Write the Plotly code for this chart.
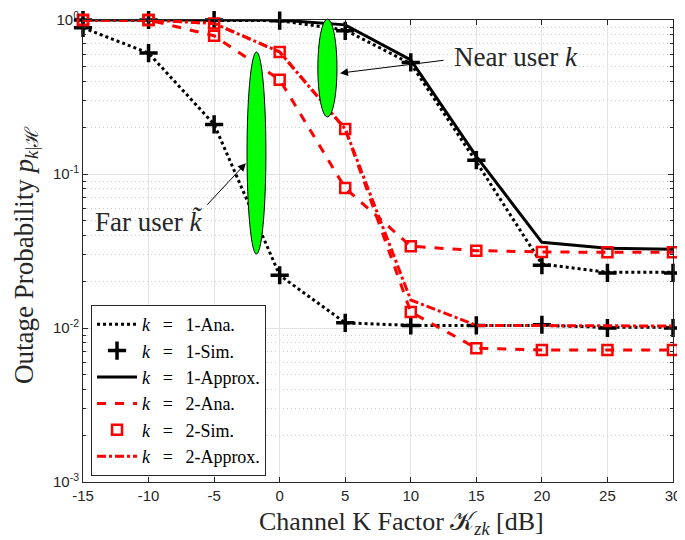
import plotly.graph_objects as go

# ---------------- data ----------------
k_factor_db = [-15, -10, -5, 0, 5, 10, 15, 20, 25, 30]

k1_far_ana = [0.89, 0.61, 0.21, 0.022, 0.0108, 0.0104, 0.0104, 0.0104, 0.0101, 0.0101]
k1_far_sim = [0.89, 0.61, 0.21, 0.022, 0.0108, 0.0104, 0.0104, 0.0105, 0.0100, 0.0100]
k1_near_ana = [1.0, 1.0, 1.0, 0.99, 0.86, 0.52, 0.12, 0.026, 0.023, 0.023]
k1_near_sim = [1.0, 1.0, 1.0, 0.99, 0.85, 0.53, 0.123, 0.0256, 0.0228, 0.0228]
k1_near_approx = [1.0, 1.0, 1.0, 1.0, 0.93, 0.55, 0.13, 0.036, 0.033, 0.0325]

k2_far_ana = [1.0, 1.0, 0.79, 0.41, 0.081, 0.034, 0.0318, 0.0312, 0.031, 0.031]
k2_far_sim = [1.0, 1.0, 0.79, 0.41, 0.081, 0.034, 0.0318, 0.0312, 0.031, 0.031]
k2_near_ana = [1.0, 1.0, 0.95, 0.62, 0.196, 0.0127, 0.0074, 0.0072, 0.0072, 0.0072]
k2_near_sim = [1.0, 1.0, 0.95, 0.62, 0.196, 0.0127, 0.0074, 0.0072, 0.0072, 0.0072]
k2_near_approx = [1.0, 1.0, 0.95, 0.62, 0.196, 0.0152, 0.0104, 0.0104, 0.0103, 0.0103]

x_ticks = [-15, -10, -5, 0, 5, 10, 15, 20, 25, 30]
x_ticktext = ["-15", "-10", "-5", "0", "5", "10", "15", "20", "25", "30"]
y_tickvals = [0.001, 0.01, 0.1, 1]
y_ticktext = ["10<sup>-3</sup>", "10<sup>-2</sup>", "10<sup>-1</sup>", "10<sup>0</sup>"]
y_minor = [m * d for d in (0.001, 0.01, 0.1) for m in range(2, 10)]

SP = "\u2002\u2009"
legend_names = [
    f"<i>k</i>{SP}={SP}1-Ana.",
    f"<i>k</i>{SP}={SP}1-Sim.",
    f"<i>k</i>{SP}={SP}1-Approx.",
    f"<i>k</i>{SP}={SP}2-Ana.",
    f"<i>k</i>{SP}={SP}2-Sim.",
    f"<i>k</i>{SP}={SP}2-Approx.",
]
x_title = "Channel K Factor 𝒦<sub><i>zk</i></sub> [dB]"
y_title = "Outage Probability <i>p</i><sub><i>k</i>|ℋ</sub>"

SERIF = "Liberation Serif, Times New Roman, serif"
SANS = "Liberation Sans, Arial, sans-serif"
RED = "#ff0000"

fig = go.Figure()


def add_line(y, name, color, dash, group, show):
    fig.add_trace(go.Scatter(
        x=k_factor_db, y=y, mode="lines", name=name, legendgroup=group,
        showlegend=show, line=dict(color=color, width=3, dash=dash),
        cliponaxis=False))


def add_markers(y, name, color, symbol, size, lw, group, show):
    fig.add_trace(go.Scatter(
        x=k_factor_db, y=y, mode="markers", name=name, legendgroup=group,
        showlegend=show,
        marker=dict(symbol=symbol, size=size, color=color,
                    line=dict(color=color, width=lw)),
        cliponaxis=False))


add_line(k1_near_ana, legend_names[0], "black", "dot", "g1", True)
add_line(k1_far_ana, legend_names[0], "black", "dot", "g1", False)
add_markers(k1_near_sim, legend_names[1], "black", "cross-thin", 13, 3.5, "g2", True)
add_markers(k1_far_sim, legend_names[1], "black", "cross-thin", 13, 3.5, "g2", False)
add_line(k1_near_approx, legend_names[2], "black", "solid", "g3", True)
add_line(k2_far_ana, legend_names[3], RED, "dash", "g4", True)
add_line(k2_near_ana, legend_names[3], RED, "dash", "g4", False)
add_markers(k2_far_sim, legend_names[4], RED, "square-open", 10, 2.5, "g5", True)
add_markers(k2_near_sim, legend_names[4], RED, "square-open", 10, 2.5, "g5", False)
add_line(k2_near_approx, legend_names[5], RED, "dashdot", "g6", True)

# ---------------- layout ----------------
# (the page body adds an 8px offset, compensated in the margins)
fig.update_layout(
    width=685, height=540,
    margin=dict(l=75, r=20, t=12, b=66),
    paper_bgcolor="white", plot_bgcolor="white",
    showlegend=True,
    legend=dict(
        x=0.0136, y=0.013, xanchor="left", yanchor="bottom",
        bgcolor="white", bordercolor="#262626", borderwidth=1,
        font=dict(family=SERIF, size=18, color="black"),
        itemwidth=40, tracegroupgap=0,
    ),
    xaxis=dict(
        range=[-15, 30], tickvals=x_ticks, ticktext=x_ticktext,
        ticks="inside", ticklen=5, automargin=False,
        tickcolor="#262626", showline=True, linecolor="#262626", linewidth=1,
        mirror="ticks", showgrid=True, gridcolor="#e3e3e3", gridwidth=1,
        zeroline=False,
        tickfont=dict(family=SANS, size=15, color="#262626"),
    ),
    yaxis=dict(
        type="log", range=[-3, 0], tickvals=y_tickvals, ticktext=y_ticktext,
        ticks="inside", ticklen=5, tickcolor="#262626", automargin=False,
        showline=True, linecolor="#262626", linewidth=1, mirror="ticks",
        showgrid=True, gridcolor="#e3e3e3", gridwidth=1, zeroline=False,
        tickfont=dict(family=SANS, size=15, color="#262626"),
        minor=dict(tickvals=y_minor, ticks="inside", ticklen=3,
                   tickcolor="#262626", showgrid=True, gridcolor="#cccccc",
                   griddash="1px,3px", gridwidth=1),
    ),
)

# axis titles (placed as in the reference)
fig.add_annotation(x=0.539, y=-0.088, xref="paper", yref="paper",
                   text=x_title, showarrow=False, xanchor="center", yanchor="middle",
                   font=dict(family=SERIF, size=26, color="#262626"))
fig.add_annotation(x=-0.097, y=0.491, xref="paper", yref="paper",
                   text=y_title, showarrow=False, textangle=-90,
                   xanchor="center", yanchor="middle",
                   font=dict(family=SERIF, size=27, color="#262626"))

# green ellipses
fig.add_shape(type="circle", xref="paper", yref="paper",
              x0=0.278, x1=0.310, y0=0.4935, y1=0.9307,
              fillcolor="#00ff00", line=dict(color="black", width=1), layer="above")
fig.add_shape(type="circle", xref="paper", yref="paper",
              x0=0.398, x1=0.4305, y0=0.790, y1=1.002,
              fillcolor="#00ff00", line=dict(color="black", width=1), layer="above")

# annotations
fig.add_annotation(x=0.625, y=0.92, xref="paper", yref="paper",
                   text="Near user <i>k</i>", showarrow=False,
                   xanchor="left", yanchor="middle",
                   font=dict(family=SERIF, size=27, color="#262626"))
fig.add_annotation(x=0.4356, y=0.885, xref="paper", yref="paper", text="",
                   showarrow=True, ax=105, ay=-13, arrowhead=2, arrowsize=1.6,
                   arrowwidth=1, arrowcolor="black")
fig.add_annotation(x=0.017, y=0.563, xref="paper", yref="paper",
                   text="Far user <i>k̃</i>", showarrow=False,
                   xanchor="left", yanchor="middle",
                   font=dict(family=SERIF, size=27, color="#262626"))
fig.add_annotation(x=0.276, y=0.690, xref="paper", yref="paper", text="",
                   showarrow=True, ax=-40, ay=43, arrowhead=2, arrowsize=1.6,
                   arrowwidth=1, arrowcolor="black")

fig.write_html("out.html")
